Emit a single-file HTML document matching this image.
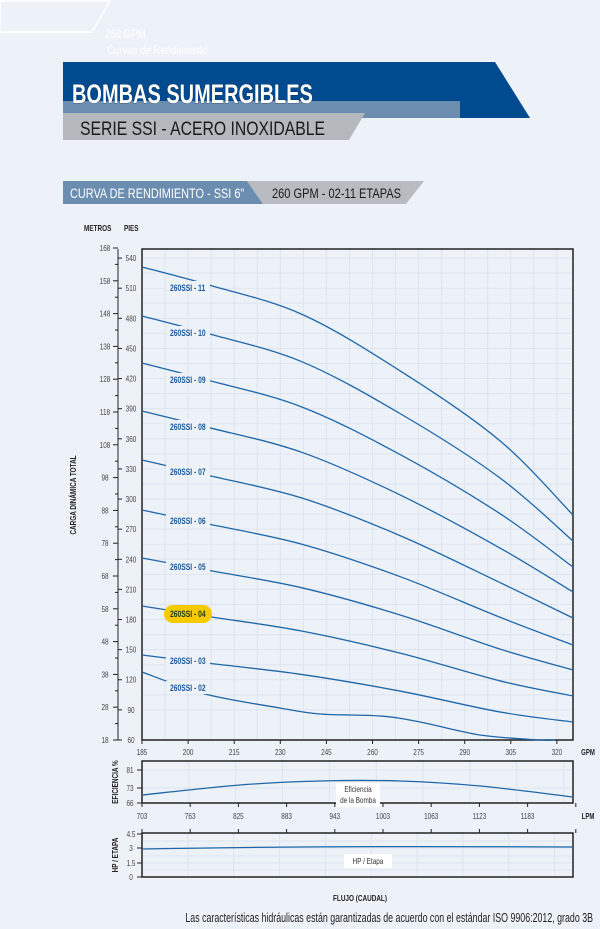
<!DOCTYPE html>
<html><head><meta charset="utf-8"><style>
html,body{margin:0;padding:0;background:#edf1f8;}
svg{display:block;font-family:"Liberation Sans Narrow","Liberation Sans",sans-serif;}
</style></head><body>
<svg id="s" width="600" height="929" viewBox="0 0 600 929" xmlns="http://www.w3.org/2000/svg">
<rect width="600" height="929" fill="#edf1f8"/>
<polygon points="0,1 110,1 92,32 0,32" fill="none" stroke="#fff" stroke-width="1.5"/>
<text x="105" y="38" fill="#fff" font-size="12" transform="translate(105,0) scale(0.8,1) translate(-105,0)">260 GPM</text>
<text x="107" y="54" fill="#fff" font-size="12" transform="translate(107,0) scale(0.8,1) translate(-107,0)">Curvas de Rendimiento</text>
<polygon points="63,62 495,62 530,118 63,118" fill="#004a8f"/>
<rect x="63" y="101" width="397" height="17" fill="#6a8db0"/>
<text x="72" y="103" fill="#fff" font-size="27" font-weight="bold" transform="translate(72,0) scale(0.74,1) translate(-72,0)" style="paint-order:stroke" stroke="#1a2a40" stroke-width="0.6">BOMBAS SUMERGIBLES</text>
<polygon points="63,113 365,113 349,140 63,140" fill="#b5b9bd"/>
<text x="80" y="135" fill="#1a1a1a" font-size="19" transform="translate(80,0) scale(0.83,1) translate(-80,0)">SERIE SSI - ACERO INOXIDABLE</text>
<polygon points="63,181 247,181 263,204 63,204" fill="#6a8db0"/>
<polygon points="247,181 424,181 406,204 263,204" fill="#b8bcc0"/>
<text x="70" y="198" fill="#fff" font-size="14" transform="translate(70,0) scale(0.78,1) translate(-70,0)">CURVA DE RENDIMIENTO - SSI 6"</text>
<text x="272" y="198" fill="#1a1a1a" font-size="14" transform="translate(272,0) scale(0.79,1) translate(-272,0)">260 GPM - 02-11 ETAPAS</text>
<text x="84" y="231" font-size="8" font-weight="bold" fill="#222" transform="translate(84,0) scale(0.8,1) translate(-84,0)">METROS</text>
<text x="124" y="231" font-size="8" font-weight="bold" fill="#222" transform="translate(124,0) scale(0.8,1) translate(-124,0)">PIES</text>
<text transform="translate(76,495) rotate(-90) scale(0.8,1)" font-size="8" font-weight="bold" fill="#222" text-anchor="middle">CARGA DINÁMICA TOTAL</text>
<g id="g"></g>
<text x="360" y="901" font-size="8" font-weight="bold" fill="#222" text-anchor="middle" transform="translate(360,0) scale(0.8,1) translate(-360,0)">FLUJO (CAUDAL)</text>
<text x="593" y="922" font-size="13" fill="#222" text-anchor="end" transform="translate(593,0) scale(0.68,1) translate(-593,0)">Las características hidráulicas están garantizadas de acuerdo con el estándar ISO 9906:2012, grado 3B</text>
</svg>
<script>
var g=document.getElementById('g'),h='';
var L=142,R=573,T=249,B=740;
function yf(ft){return 740-(ft-60)*1.004;}
function tx(x,y,s,extra){return '<text x="'+x+'" y="'+y+'" '+extra+' transform="translate('+x+',0) scale(0.75,1) translate('+(-x)+',0)">'+s+'</text>';}
for(var i=1;i<19;i++){var x=L+i*(R-L)/18.7;h+='<line x1="'+x+'" y1="'+T+'" x2="'+x+'" y2="'+B+'" stroke="#dde5f0" stroke-width="1"/>';}
for(var f=90;f<=540;f+=15){h+='<line x1="'+L+'" y1="'+yf(f)+'" x2="'+R+'" y2="'+yf(f)+'" stroke="#dde5f0"/>';}
h+='<rect x="'+L+'" y="'+T+'" width="'+(R-L)+'" height="'+(B-T)+'" fill="none" stroke="#222" stroke-width="1.5"/>';
h+='<line x1="118" y1="249" x2="118" y2="740" stroke="#222"/>';
for(var f=60;f<=540;f+=30){var y=yf(f);h+='<line x1="118" y1="'+y+'" x2="122" y2="'+y+'" stroke="#222"/>'+tx(131,y+3,f,'font-size="8.5" fill="#444" text-anchor="middle"');}
for(var m=18;m<=168;m+=10){var y=740-(m-18)*3.28;h+='<line x1="113" y1="'+y+'" x2="118" y2="'+y+'" stroke="#222"/>'+tx(105,y+3,m,'font-size="8.5" fill="#444" text-anchor="middle"');
 if(m<168){var y2=y-3.28*5;h+='<line x1="115" y1="'+y2+'" x2="118" y2="'+y2+'" stroke="#222"/>';}}
for(var i=0;i<10;i++){var x=L+i*46.1;h+='<line x1="'+x+'" y1="740" x2="'+x+'" y2="744" stroke="#222"/>'+tx(x,755,185+15*i,'font-size="8.5" fill="#444" text-anchor="middle"');}
h+=tx(588,755,'GPM','font-size="8" font-weight="bold" fill="#222" text-anchor="middle"');
function path(pts){var d='M'+pts[0][0]+','+pts[0][1];for(var i=0;i<pts.length-1;i++){var p0=pts[Math.max(0,i-1)],p1=pts[i],p2=pts[i+1],p3=pts[Math.min(pts.length-1,i+2)];
 d+=' C'+(p1[0]+(p2[0]-p0[0])/6)+','+(p1[1]+(p2[1]-p0[1])/6)+' '+(p2[0]-(p3[0]-p1[0])/6)+','+(p2[1]-(p3[1]-p1[1])/6)+' '+p2[0]+','+p2[1];}return d;}
var curves=[[11,267,515,288],[10,316,541,333],[9,363,567,380],[8,411,592,427],[7,460,618,472],[6,510,645,521],[5,558,670,567],[4,606,696,614],[3,655,722,661]];
var ts=[0,0.15,0.37,0.6,0.83,1],fTop=[0,0.07,0.19,0.42,0.70,1],fBot=[0,0.12,0.29,0.54,0.85,1];
curves.forEach(function(c,k){var w=k/8,pts=[];for(var i=0;i<6;i++){var fr=fTop[i]*(1-w)+fBot[i]*w;pts.push([L+ts[i]*(R-L),c[1]+fr*(c[2]-c[1])]);}
 h+='<path d="'+path(pts)+'" fill="none" stroke="#1f67a8" stroke-width="1.3"/>';});
h+='<path d="'+path([[142,672],[205,694],[280,708],[320,714],[380,716],[420,722],[480,735],[540,740],[555,740]])+'" fill="none" stroke="#1f67a8" stroke-width="1.3"/>';
curves.concat([[2,0,0,688]]).forEach(function(c){var n=(c[0]<10?'0':'')+c[0];
 if(c[0]==4)h+='<rect x="164" y="'+(c[3]-9)+'" width="48" height="18" rx="9" fill="#f7c900"/>';
 else h+='<rect x="166" y="'+(c[3]-7)+'" width="44" height="13" fill="#edf1f8"/>';
 h+=tx(170,c[3]+3,'260SSI - '+n,'font-size="9" font-weight="bold" fill="'+(c[0]==4?'#1e3a20':'#1a5a9a')+'"');});
var eT=761,eB=803;
for(var i=1;i<10;i++){var x=L+i*(R-L)/9.2;h+='<line x1="'+x+'" y1="'+eT+'" x2="'+x+'" y2="'+eB+'" stroke="#dde5f0"/>';}
[770,788].forEach(function(y){h+='<line x1="'+L+'" y1="'+y+'" x2="'+R+'" y2="'+y+'" stroke="#dde5f0"/>';});
h+='<rect x="'+L+'" y="'+eT+'" width="'+(R-L)+'" height="'+(eB-eT)+'" fill="none" stroke="#222" stroke-width="1.5"/>';
[[81,770],[73,788],[66,803]].forEach(function(a){h+='<line x1="137" y1="'+a[1]+'" x2="142" y2="'+a[1]+'" stroke="#222"/>'+tx(130,a[1]+3,a[0],'font-size="8.5" fill="#444" text-anchor="middle"');});
h+='<text transform="translate(118,782) rotate(-90) scale(0.8,1)" font-size="8" font-weight="bold" fill="#222" text-anchor="middle">EFICIENCIA %</text>';
h+='<path d="'+path([[142,795],[240,785],[320,781],[400,781],[480,786],[573,797]])+'" fill="none" stroke="#1f67a8" stroke-width="1.3"/>';
h+='<rect x="336" y="783" width="44" height="24" fill="#fff"/>'+tx(358,792,'Eficiencia','font-size="8.5" fill="#333" text-anchor="middle"')+tx(358,803,'de la Bomba','font-size="8.5" fill="#333" text-anchor="middle"');
var lp=[703,763,825,883,943,1003,1063,1123,1183];
for(var i=0;i<9;i++){var x=L+i*48.2;h+=tx(x,819,lp[i],'font-size="8.5" fill="#444" text-anchor="middle"');}
for(var i=0;i<10;i++){var x=L+i*48.2;h+='<line x1="'+x+'" y1="803" x2="'+x+'" y2="807" stroke="#222"/><line x1="'+x+'" y1="829" x2="'+x+'" y2="833" stroke="#222"/>';}
h+=tx(588,819,'LPM','font-size="8" font-weight="bold" fill="#222" text-anchor="middle"');
var hT=833,hB=877;
for(var i=1;i<10;i++){var x=L+i*(R-L)/9.4;h+='<line x1="'+x+'" y1="'+hT+'" x2="'+x+'" y2="'+hB+'" stroke="#dde5f0"/>';}
[841,848,856,863,870].forEach(function(y){h+='<line x1="'+L+'" y1="'+y+'" x2="'+R+'" y2="'+y+'" stroke="#dde5f0"/>';});
h+='<rect x="'+L+'" y="'+hT+'" width="'+(R-L)+'" height="'+(hB-hT)+'" fill="none" stroke="#222" stroke-width="1.5"/>';
[['4.5',834],['3',848],['1.5',863],['0',877]].forEach(function(a){h+='<line x1="137" y1="'+a[1]+'" x2="142" y2="'+a[1]+'" stroke="#222"/>'+tx(131,a[1]+3,a[0],'font-size="8.5" fill="#444" text-anchor="middle"');});
h+='<text transform="translate(118,855) rotate(-90) scale(0.8,1)" font-size="8" font-weight="bold" fill="#222" text-anchor="middle">HP / ETAPA</text>';
h+='<path d="M142,849 C250,847 350,846 573,847" fill="none" stroke="#1f67a8" stroke-width="1.3"/>';
h+='<rect x="344" y="854" width="48" height="14" fill="#fff"/>'+tx(368,864,'HP / Etapa','font-size="8.5" fill="#333" text-anchor="middle"');
g.innerHTML=h;
</script>
</body></html>
